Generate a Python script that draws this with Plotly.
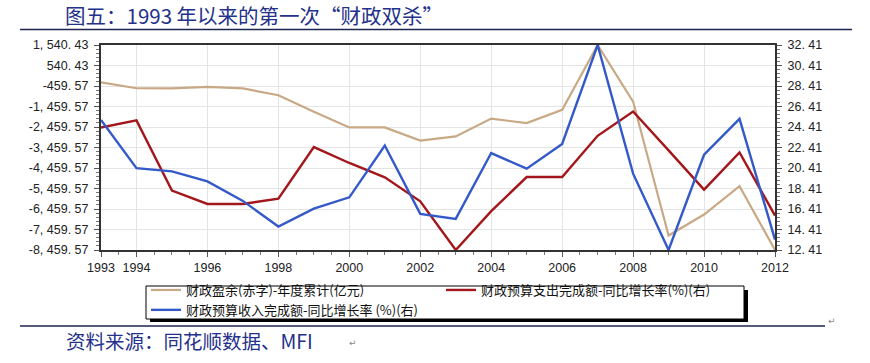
import plotly.graph_objects as go

# ---------------- data ----------------
years = list(range(1993, 2013))

surplus_name = "财政盈余(赤字)-年度累计(亿元)"
surplus = [-280, -570, -580, -500, -580, -910, -1710, -2480, -2480, -3120,
           -2920, -2050, -2270, -1620, 1540.43, -1220, -7750, -6730, -5350, -8459.57]

expend_name = "财政预算支出完成额-同比增长率(%)(右)"
expend_growth = [24.36, 25.05, 18.2, 16.9, 16.9, 17.42, 22.45, 20.9, 19.5, 17.16,
                 12.41, 16.2, 19.53, 19.53, 23.55, 25.92, 22.13, 18.3, 21.93, 15.77]

revenue_name = "财政预算收入完成额-同比增长率 (%)(右)"
revenue_growth = [25.1, 20.4, 20.08, 19.1, 17.2, 14.7, 16.45, 17.55, 22.6, 15.93,
                  15.44, 21.87, 20.34, 22.75, 32.41, 19.86, 12.41, 21.7, 25.2, 13.43]

x_tickvals = [1993, 1994, 1996, 1998, 2000, 2002, 2004, 2006, 2008, 2010, 2012]
x_ticktext = ["1993", "1994", "1996", "1998", "2000", "2002", "2004", "2006", "2008", "2010", "2012"]

left_tickvals = [1540.43, 540.43, -459.57, -1459.57, -2459.57, -3459.57,
                 -4459.57, -5459.57, -6459.57, -7459.57, -8459.57]
left_ticktext = ["1, 540. 43", "540. 43", "-459. 57", "-1, 459. 57", "-2, 459. 57", "-3, 459. 57",
                 "-4, 459. 57", "-5, 459. 57", "-6, 459. 57", "-7, 459. 57", "-8, 459. 57"]

right_tickvals = [32.41, 30.41, 28.41, 26.41, 24.41, 22.41, 20.41, 18.41, 16.41, 14.41, 12.41]
right_ticktext = ["32. 41", "30. 41", "28. 41", "26. 41", "24. 41", "22. 41",
                  "20. 41", "18. 41", "16. 41", "14. 41", "12. 41"]

title_text = "图五：1993 年以来的第一次“财政双杀”"
source_text = "资料来源：同花顺数据、MFI"

# ---------------- layout helpers ----------------
W, H = 870, 363
ML, MR, MT, MB = 101, 95, 45, 113
PW, PH = W - ML - MR, H - MT - MB


def px(x):
    return (x - ML) / PW


def py(y):
    return (H - MB - y) / PH


CJK = "Noto Sans CJK SC"
NUM = "Liberation Sans"
NAVY = "#24318a"

fig = go.Figure()
fig.add_trace(go.Scatter(x=years, y=surplus, name=surplus_name, mode="lines",
                         line=dict(color="#c9a985", width=2.2), yaxis="y"))
fig.add_trace(go.Scatter(x=years, y=expend_growth, name=expend_name, mode="lines",
                         line=dict(color="#a3161b", width=2.4), yaxis="y2"))
fig.add_trace(go.Scatter(x=years, y=revenue_growth, name=revenue_name, mode="lines",
                         line=dict(color="#3459c9", width=2.4), yaxis="y2"))

axis_common = dict(showline=True, linecolor="#333333", linewidth=2,
                   ticks="outside", ticklen=5, tickcolor="#555555",
                   tickfont=dict(family=NUM, size=12.5, color="#222222"),
                   zeroline=False)

fig.update_layout(
    width=W, height=H,
    margin=dict(l=ML, r=MR, t=MT, b=MB),
    paper_bgcolor="white", plot_bgcolor="white",
    xaxis=dict(axis_common, range=[1993, 2012], tickmode="array",
               tickvals=x_tickvals, ticktext=x_ticktext,
               showgrid=True, gridcolor="#e4e4e4", gridwidth=1, mirror=True,
               minor=dict(ticks="outside", ticklen=3, tickcolor="#777777",
                          tickmode="linear", tick0=1993, dtick=0.5, showgrid=False)),
    yaxis=dict(axis_common, range=[-8459.57, 1540.43], tickmode="array",
               tickvals=left_tickvals, ticktext=left_ticktext,
               showgrid=True, gridcolor="#e4e4e4", gridwidth=1, mirror=True,
               ticklabelstandoff=3,
               minor=dict(ticks="outside", ticklen=3, tickcolor="#777777",
                          tickmode="linear", tick0=-8459.57, dtick=200, showgrid=False)),
    yaxis2=dict(axis_common, range=[12.41, 32.41], tickmode="array",
                tickvals=right_tickvals, ticktext=right_ticktext,
                overlaying="y", side="right", showgrid=False,
                ticklabelstandoff=3,
                minor=dict(ticks="outside", ticklen=3, tickcolor="#777777",
                           tickmode="linear", tick0=12.41, dtick=0.4, showgrid=False)),
    showlegend=True,
    legend=dict(orientation="h", x=px(146), y=py(275), xanchor="left", yanchor="top",
                bgcolor="rgba(0,0,0,0)", borderwidth=0,
                font=dict(family=CJK, size=13, color="#111111"),
                entrywidth=250, entrywidthmode="pixels", itemwidth=30,
                tracegroupgap=0),
)

shapes = [
    # legend drop shadow
    dict(type="rect", xref="paper", yref="paper", x0=px(150), x1=px(748), y0=py(322), y1=py(290),
         fillcolor="black", line=dict(width=0), layer="above"),
    # legend box
    dict(type="rect", xref="paper", yref="paper", x0=px(146), x1=px(744), y0=py(319), y1=py(286),
         fillcolor="white", line=dict(color="black", width=1), layer="above"),
    # top rule under title
    dict(type="line", xref="paper", yref="paper", x0=px(20), x1=px(852), y0=py(29.5), y1=py(29.5),
         line=dict(color="#1b2550", width=1.5)),
    # bottom rule
    dict(type="line", xref="paper", yref="paper", x0=px(20), x1=px(825), y0=py(326), y1=py(326),
         line=dict(color="#1b2550", width=1.5)),
]
fig.update_layout(shapes=shapes)

annotations = [
    dict(text=title_text, xref="paper", yref="paper", x=px(63), y=py(15),
         xanchor="left", yanchor="middle", showarrow=False,
         font=dict(family=CJK, size=20.5, color=NAVY)),
    dict(text=source_text, xref="paper", yref="paper", x=px(64), y=py(340),
         xanchor="left", yanchor="middle", showarrow=False,
         font=dict(family=CJK, size=19.5, color=NAVY)),
    dict(text="↵", xref="paper", yref="paper", x=px(347), y=py(343),
         xanchor="left", yanchor="middle", showarrow=False,
         font=dict(family="DejaVu Sans", size=9, color="#888888")),
    dict(text="↵", xref="paper", yref="paper", x=px(826), y=py(321),
         xanchor="left", yanchor="middle", showarrow=False,
         font=dict(family="DejaVu Sans", size=9, color="#888888")),
]
fig.update_layout(annotations=annotations)

fig.write_html("out.html", config={"displayModeBar": False},
               post_script="document.body.style.margin='0px';")
